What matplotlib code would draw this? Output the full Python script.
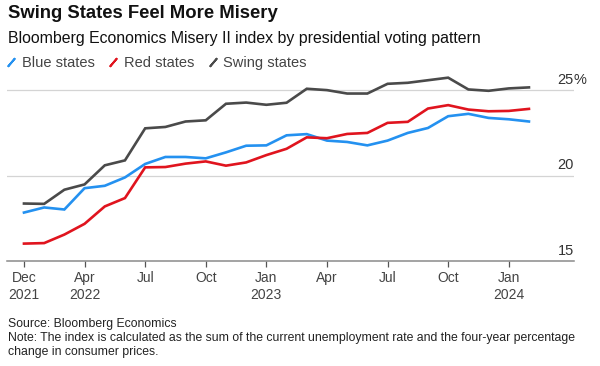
import matplotlib
matplotlib.use("Agg")
import matplotlib.pyplot as plt
from matplotlib.lines import Line2D

# monthly readings, Dec 2021 .. Jan 2024
blue = [17.84, 18.14, 18.02, 19.27, 19.41, 19.90, 20.69, 21.10, 21.10, 21.02,
        21.37, 21.76, 21.78, 22.37, 22.44, 22.06, 21.98, 21.78, 22.06, 22.51,
        22.80, 23.49, 23.63, 23.39, 23.31, 23.18]
red = [16.02, 16.05, 16.55, 17.18, 18.20, 18.69, 20.49, 20.51, 20.71, 20.84,
       20.59, 20.78, 21.21, 21.58, 22.25, 22.20, 22.45, 22.51, 23.10, 23.16,
       23.94, 24.14, 23.88, 23.78, 23.80, 23.92]
swing = [18.37, 18.35, 19.18, 19.49, 20.61, 20.90, 22.78, 22.86, 23.18, 23.25,
         24.22, 24.29, 24.16, 24.28, 25.10, 25.02, 24.82, 24.82, 25.39, 25.45,
         25.60, 25.75, 25.06, 24.98, 25.12, 25.18]
tick_pos = [0, 3, 6, 9, 12, 15, 18, 21, 24]
tick_labels = ["Dec\n2021", "Apr\n2022", "Jul", "Oct", "Jan\n2023",
               "Apr", "Jul", "Oct", "Jan\n2024"]
y_ticks = [15, 20, 25]
y_labels = ["15", "20", "25"]

c_blue = "#2491F0"
c_red = "#E0141E"
c_gray = "#4A4A4A"

plt.rcParams["font.family"] = ["Liberation Sans", "DejaVu Sans"]

fig = plt.figure(figsize=(6, 3.66), dpi=100)
ax = fig.add_axes([7 / 600, 1 - 261 / 366, 567 / 600, 191 / 366])

x = list(range(len(blue)))
ax.plot(x, blue, color=c_blue, lw=1.9, solid_joinstyle="miter")
ax.plot(x, red, color=c_red, lw=1.9, solid_joinstyle="miter")
ax.plot(x, swing, color=c_gray, lw=1.9, solid_joinstyle="miter")

ax.set_xlim(-0.84, 27.23)
ax.set_ylim(15, 26.2)

for s in ["left", "right", "top"]:
    ax.spines[s].set_visible(False)
ax.spines["bottom"].set_color("#8a8a8a")
ax.spines["bottom"].set_linewidth(1.1)

ax.set_yticks(y_ticks[1:])
ax.yaxis.grid(True, color="#d4d4d4", lw=0.9)
ax.tick_params(axis="y", length=0, labelleft=False)
ax.set_axisbelow(True)

for v, lab in zip(y_ticks, y_labels):
    ax.text(0.9995, v + 0.2, lab, transform=ax.get_yaxis_transform(),
            ha="right", va="bottom", fontsize=10.5, color="#333333")
ax.text(0.9995, y_ticks[-1] + 0.2, "%", transform=ax.get_yaxis_transform(),
        ha="left", va="bottom", fontsize=10.5, color="#333333")

ax.set_xticks(tick_pos)
ax.set_xticklabels(tick_labels, fontsize=10, color="#444444", linespacing=1.25)
ax.tick_params(axis="x", length=4.5, width=0.9, color="#555555", pad=3)

fig.text(8 / 600, 1 - 14 / 366, "Swing States Feel More Misery",
         fontsize=13.3, fontweight="bold", va="center", color="#111111")
fig.text(8 / 600, 1 - 38 / 366,
         "Bloomberg Economics Misery II index by presidential voting pattern",
         fontsize=11.4, va="center", color="#111111")

handles = [Line2D([], [], ls="none", marker=(2, 2, -40), markersize=8,
                  markeredgewidth=1.4, color=c)
           for c in (c_blue, c_red, c_gray)]
fig.legend(handles, ["Blue states", "Red states", "Swing states"],
           loc="center left", bbox_to_anchor=(0, 1 - 63 / 366), ncol=3,
           frameon=False, fontsize=10.5, handlelength=0.7, handletextpad=0.4,
           columnspacing=0.9, labelcolor="#444444", borderaxespad=0)

fig.text(8 / 600, 1 - 324 / 366, "Source: Bloomberg Economics",
         fontsize=8.8, va="center", color="#222222")
fig.text(8 / 600, 1 - 345 / 366,
         "Note: The index is calculated as the sum of the current unemployment rate and the four-year percentage\nchange in consumer prices.",
         fontsize=8.8, va="center", color="#222222", linespacing=1.3)

fig.savefig("out.png", dpi=100)
